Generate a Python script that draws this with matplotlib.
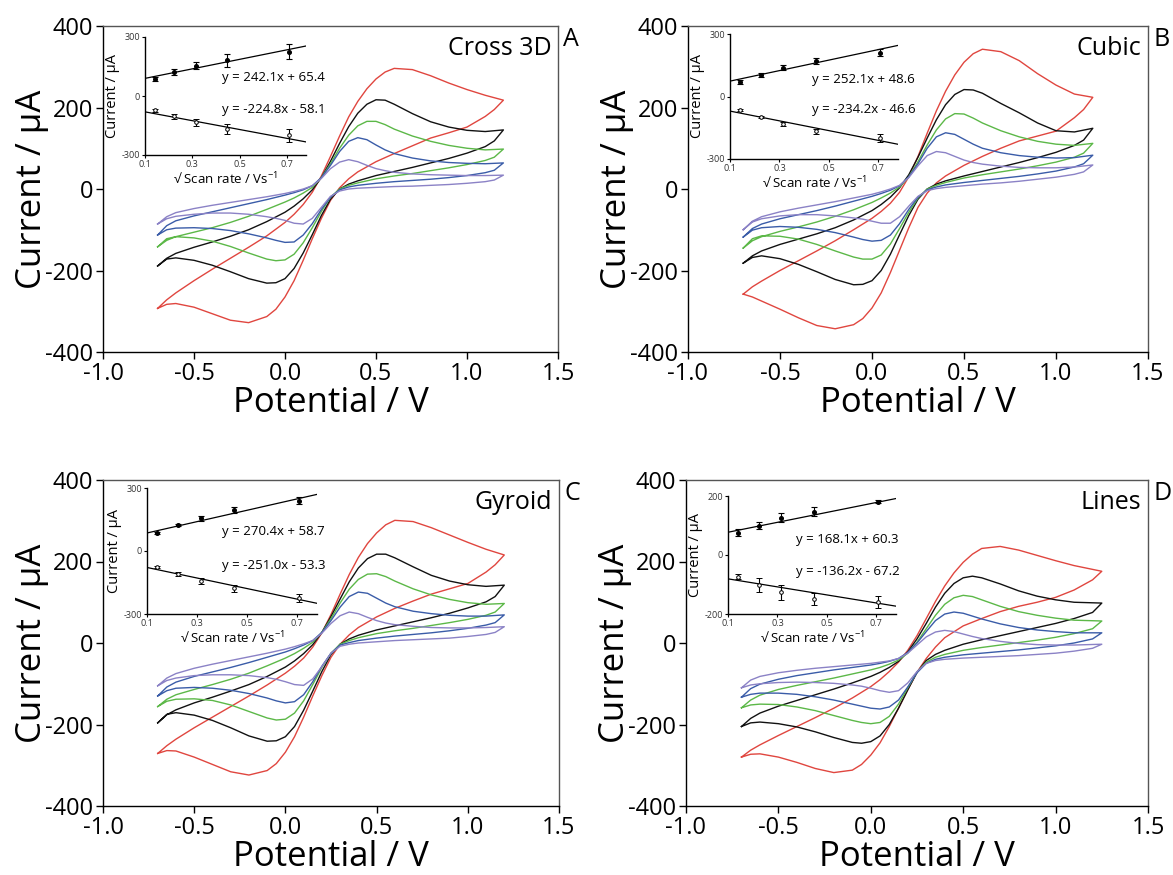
import matplotlib
matplotlib.use("Agg")
import matplotlib.pyplot as plt
import numpy as np

plt.rcParams['font.family'] = ['Open Sans', 'DejaVu Sans']
plt.rcParams['mathtext.default'] = 'regular'

W, H = 1173, 875

# ---------------- data ----------------
# potentials (V) of the forward (anodic) and reverse (cathodic) sweeps
VF = [-0.7, -0.65, -0.6, -0.5, -0.4, -0.3, -0.2, -0.1, 0.0, 0.05, 0.1, 0.15, 0.2, 0.25, 0.3,
      0.35, 0.4, 0.45, 0.5, 0.55, 0.6, 0.7, 0.8, 0.9, 1.0, 1.1, 1.2]
VR = [1.2, 1.15, 1.1, 1.0, 0.9, 0.8, 0.7, 0.6, 0.5, 0.4, 0.35, 0.3, 0.25, 0.2, 0.15, 0.1,
      0.05, 0.0, -0.05, -0.1, -0.2, -0.3, -0.4, -0.5, -0.6, -0.65, -0.7]
VF_D = [-0.7, -0.65, -0.6, -0.5, -0.4, -0.3, -0.2, -0.1, 0.0, 0.05, 0.1, 0.15, 0.2, 0.25, 0.3,
        0.35, 0.4, 0.45, 0.5, 0.55, 0.6, 0.7, 0.8, 0.9, 1.0, 1.1, 1.25]
VR_D = [1.25, 1.2, 1.1, 1.0, 0.9, 0.8, 0.7, 0.6, 0.5, 0.4, 0.35, 0.3, 0.25, 0.2, 0.15, 0.1,
        0.05, 0.0, -0.05, -0.1, -0.2, -0.3, -0.4, -0.5, -0.6, -0.65, -0.7]

curve_colors = ['#e0463f', '#111111', '#5cb848', '#3a5ca8', '#8b82c6']

# current (uA); rows: red, black, green, blue, purple
A_fwd = [
    [-293, -272, -255, -225, -197, -170, -143, -115, -82, -62, -38, -8, 32, 80, 130, 177, 215, 246, 270, 287, 296, 293, 278, 260, 244, 230, 218],
    [-189, -170, -158, -143, -130, -116, -100, -80, -57, -42, -24, -2, 28, 68, 112, 153, 186, 208, 219, 218, 208, 185, 165, 152, 144, 141, 145],
    [-142, -126, -117, -106, -95, -82, -67, -50, -32, -22, -10, 4, 28, 62, 100, 132, 155, 166, 166, 158, 147, 130, 117, 107, 100, 96, 98],
    [-113, -90, -78, -66, -56, -46, -36, -26, -15, -9, -2, 8, 28, 58, 92, 117, 126, 121, 108, 96, 87, 76, 69, 65, 63, 62, 64],
    [-86, -68, -58, -48, -40, -33, -26, -19, -11, -6, 0, 8, 26, 50, 66, 72, 67, 58, 50, 45, 41, 37, 35, 34, 33, 33, 34],
]
A_rev = [
    [218, 195, 178, 152, 138, 125, 106, 87, 67, 42, 25, 3, -28, -72, -122, -175, -225, -265, -295, -313, -328, -322, -306, -290, -281, -283, -293],
    [145, 118, 104, 88, 75, 64, 53, 43, 33, 20, 12, 0, -25, -65, -112, -157, -195, -220, -230, -231, -220, -203, -187, -175, -169, -172, -189],
    [98, 78, 70, 60, 52, 45, 38, 32, 25, 15, 9, 0, -20, -55, -95, -132, -160, -174, -176, -172, -157, -141, -128, -120, -117, -122, -142],
    [64, 46, 40, 33, 28, 24, 21, 18, 14, 9, 5, -2, -20, -50, -85, -113, -130, -131, -126, -120, -110, -102, -97, -95, -96, -100, -113],
    [34, 22, 18, 14, 11, 9, 7, 6, 4, 2, 0, -5, -18, -45, -72, -86, -84, -77, -72, -68, -62, -59, -59, -62, -67, -73, -86],
]
B_fwd = [
    [-258, -240, -226, -200, -176, -152, -127, -100, -72, -55, -35, -8, 30, 80, 137, 192, 240, 280, 311, 332, 343, 337, 315, 283, 255, 233, 225],
    [-182, -164, -152, -136, -123, -110, -95, -76, -53, -38, -20, 3, 35, 78, 125, 170, 207, 232, 244, 243, 235, 210, 187, 162, 143, 140, 149],
    [-145, -127, -117, -104, -93, -81, -67, -51, -33, -22, -10, 5, 30, 67, 108, 145, 172, 185, 184, 174, 162, 143, 128, 117, 110, 107, 112],
    [-118, -97, -86, -73, -63, -53, -42, -30, -18, -11, -3, 8, 30, 62, 100, 128, 138, 134, 122, 110, 100, 89, 82, 78, 76, 77, 83],
    [-100, -79, -68, -56, -47, -39, -31, -22, -13, -7, 0, 9, 28, 57, 82, 92, 89, 80, 71, 65, 61, 56, 53, 52, 52, 54, 59],
]
B_rev = [
    [225, 195, 175, 142, 130, 118, 100, 80, 58, 32, 15, -10, -45, -95, -150, -205, -255, -292, -318, -333, -343, -335, -316, -295, -275, -265, -258],
    [149, 120, 107, 90, 77, 65, 54, 43, 32, 20, 12, 0, -25, -65, -112, -160, -200, -225, -234, -235, -222, -203, -185, -171, -164, -168, -182],
    [112, 88, 78, 66, 57, 49, 42, 35, 27, 16, 9, 0, -22, -57, -97, -135, -162, -172, -172, -167, -152, -136, -123, -116, -115, -122, -145],
    [83, 62, 54, 44, 37, 31, 26, 21, 16, 10, 5, -2, -20, -50, -85, -113, -126, -128, -124, -118, -107, -99, -94, -92, -95, -101, -118],
    [59, 42, 36, 29, 24, 19, 15, 12, 8, 4, 1, -4, -18, -42, -68, -84, -84, -79, -74, -71, -66, -63, -63, -66, -73, -81, -100],
]
C_fwd = [
    [-271, -252, -236, -208, -182, -156, -130, -103, -74, -57, -37, -10, 25, 70, 120, 168, 210, 244, 270, 290, 301, 298, 283, 265, 247, 230, 216],
    [-196, -176, -164, -147, -133, -118, -102, -82, -59, -44, -26, -4, 26, 65, 108, 150, 184, 207, 218, 218, 209, 187, 166, 152, 143, 139, 142],
    [-156, -138, -127, -114, -102, -89, -74, -56, -37, -26, -13, 2, 26, 60, 98, 132, 156, 169, 170, 163, 152, 133, 118, 107, 99, 95, 97],
    [-130, -108, -96, -82, -71, -60, -48, -35, -22, -14, -5, 6, 26, 55, 88, 114, 125, 122, 110, 98, 89, 78, 72, 68, 66, 66, 69],
    [-105, -86, -75, -62, -52, -43, -34, -25, -15, -9, -2, 6, 24, 48, 67, 76, 72, 63, 55, 49, 45, 41, 38, 37, 37, 38, 40],
]
C_rev = [
    [216, 192, 174, 146, 133, 120, 103, 85, 64, 38, 20, -3, -35, -80, -130, -182, -230, -268, -296, -313, -324, -316, -298, -280, -265, -264, -271],
    [142, 114, 101, 86, 73, 62, 52, 42, 32, 19, 10, -3, -28, -70, -118, -165, -205, -230, -240, -241, -228, -208, -190, -177, -171, -175, -196],
    [97, 76, 68, 58, 50, 43, 36, 30, 23, 13, 6, -3, -25, -60, -102, -142, -172, -187, -189, -184, -168, -152, -141, -137, -138, -143, -156],
    [69, 50, 44, 36, 30, 25, 21, 17, 12, 6, 1, -5, -25, -57, -95, -127, -144, -147, -142, -135, -124, -116, -111, -109, -111, -117, -130],
    [40, 26, 21, 16, 12, 10, 8, 6, 3, 0, -3, -8, -25, -58, -88, -104, -102, -95, -89, -85, -80, -78, -78, -80, -86, -92, -105],
]
D_fwd = [
    [-280, -263, -250, -227, -205, -183, -160, -135, -107, -90, -70, -47, -18, 18, 60, 102, 140, 172, 198, 218, 232, 237, 228, 215, 202, 190, 176],
    [-205, -185, -172, -155, -141, -127, -113, -98, -82, -72, -60, -45, -22, 10, 48, 88, 122, 146, 160, 164, 160, 145, 128, 115, 106, 100, 98],
    [-159, -140, -128, -114, -104, -95, -86, -76, -66, -60, -52, -42, -25, 2, 35, 68, 95, 111, 117, 114, 106, 90, 77, 68, 61, 56, 54],
    [-133, -112, -101, -89, -80, -73, -66, -60, -54, -50, -45, -38, -23, 0, 28, 55, 71, 76, 73, 66, 59, 47, 38, 32, 28, 25, 25],
    [-110, -91, -82, -73, -67, -62, -58, -54, -50, -47, -44, -38, -25, -5, 15, 27, 31, 28, 22, 16, 11, 4, -1, -4, -5, -5, -3],
]
D_rev = [
    [176, 155, 130, 112, 100, 90, 77, 60, 42, 13, -10, -38, -72, -115, -160, -205, -245, -275, -298, -312, -318, -308, -293, -280, -272, -273, -280],
    [98, 75, 60, 48, 38, 28, 18, 8, -3, -18, -28, -43, -72, -115, -160, -200, -228, -242, -246, -244, -232, -218, -206, -198, -194, -196, -205],
    [54, 35, 23, 14, 7, 1, -5, -11, -18, -28, -35, -47, -72, -110, -150, -180, -195, -198, -195, -190, -178, -166, -157, -151, -150, -152, -159],
    [25, 10, 0, -7, -12, -17, -21, -25, -29, -35, -40, -50, -73, -108, -140, -157, -162, -160, -155, -150, -140, -132, -126, -123, -123, -126, -133],
    [-3, -13, -20, -25, -28, -31, -33, -35, -37, -40, -43, -50, -70, -98, -117, -121, -117, -111, -106, -103, -99, -97, -96, -97, -100, -103, -110],
]

# inset data: sqrt(scan rate) and peak currents with error bars
sqrt_sr = [0.141, 0.224, 0.316, 0.447, 0.707]
A_ox, A_ox_err = [87, 123, 155, 183, 225], [10, 15, 20, 33, 38]
A_rd, A_rd_err = [-72, -103, -133, -167, -200], [8, 13, 18, 25, 33]
B_ox, B_ox_err = [69, 104, 138, 170, 211], [8, 8, 12, 13, 17]
B_rd, B_rd_err = [-67, -99, -133, -168, -200], [5, 5, 10, 10, 18]
C_ox, C_ox_err = [86, 123, 157, 194, 240], [5, 5, 12, 15, 15]
C_rd, C_rd_err = [-75, -110, -142, -178, -224], [5, 8, 13, 15, 18]
D_ox, D_ox_err = [75, 100, 127, 147, 181], [12, 12, 15, 15, 5]
D_rd, D_rd_err = [-73, -102, -127, -150, -160], [10, 25, 25, 20, 20]

fits = {
    'A': [(242.1, 65.4), (-224.8, -58.1)],
    'B': [(252.1, 48.6), (-234.2, -46.6)],
    'C': [(270.4, 58.7), (-251.0, -53.3)],
    'D': [(168.1, 60.3), (-136.2, -67.2)],
}
fit_labels = {
    'A': ['y = 242.1x + 65.4', 'y = -224.8x - 58.1'],
    'B': ['y = 252.1x + 48.6', 'y = -234.2x - 46.6'],
    'C': ['y = 270.4x + 58.7', 'y = -251.0x - 53.3'],
    'D': ['y = 168.1x + 60.3', 'y = -136.2x - 67.2'],
}
names = {'A': 'Cross 3D', 'B': 'Cubic', 'C': 'Gyroid', 'D': 'Lines'}

# ---------------- layout (pixels) ----------------
main_px = {'A': (103, 558, 26, 352), 'B': (688, 1148, 26, 352),
           'C': (103, 559, 480, 806), 'D': (686, 1148, 480, 806)}
inset_px = {'A': (145, 306, 37, 155), 'B': (730, 898, 34, 159),
            'C': (147, 317, 488, 614), 'D': (728, 896, 496, 614)}
inset_ylim = {'A': 300, 'B': 300, 'C': 300, 'D': 200}
eq_px = {'A': (222, 78, 110), 'B': (812, 80, 110), 'C': (222, 532, 565), 'D': (796, 539, 571)}

def rect(l, r, t, b):
    return [l / W, 1 - b / H, (r - l) / W, (b - t) / H]

fig = plt.figure(figsize=(W / 100, H / 100), dpi=100)

panel_data = {
    'A': (VF, VR, A_fwd, A_rev, A_ox, A_ox_err, A_rd, A_rd_err),
    'B': (VF, VR, B_fwd, B_rev, B_ox, B_ox_err, B_rd, B_rd_err),
    'C': (VF, VR, C_fwd, C_rev, C_ox, C_ox_err, C_rd, C_rd_err),
    'D': (VF_D, VR_D, D_fwd, D_rev, D_ox, D_ox_err, D_rd, D_rd_err),
}

for key in ['A', 'B', 'C', 'D']:
    vf, vr, fwd, rev, ox, oxe, rd, rde = panel_data[key]
    l, r, t, b = main_px[key]
    ax = fig.add_axes(rect(l, r, t, b))
    for i in range(5):
        ax.plot(list(vf) + list(vr), list(fwd[i]) + list(rev[i]),
                color=curve_colors[i], lw=1.0, solid_joinstyle='round')
    ax.set_xlim(-1.0, 1.5)
    ax.set_ylim(-400, 400)
    ax.set_xticks([-1.0, -0.5, 0.0, 0.5, 1.0, 1.5])
    ax.set_xticklabels(['-1.0', '-0.5', '0.0', '0.5', '1.0', '1.5'])
    ax.set_yticks([-400, -200, 0, 200, 400])
    ax.set_yticklabels(['-400', '-200', '0', '200', '400'])
    ax.tick_params(direction='out', length=5, width=1, labelsize=17, pad=2,
                   top=False, right=False)
    for s in ['left', 'bottom']:
        ax.spines[s].set_color('black')
        ax.spines[s].set_linewidth(1.0)
    for s in ['top', 'right']:
        ax.spines[s].set_color('#555555')
        ax.spines[s].set_linewidth(1.0)
    ax.set_xlabel('Potential / V', fontsize=25, labelpad=0)
    ax.set_ylabel('Current / µA', fontsize=25, labelpad=-3)
    ax.text(0.985, 0.93, names[key], transform=ax.transAxes, ha='right', va='center',
            fontsize=18)
    ax.text(1.012, 0.96, key, transform=ax.transAxes, ha='left', va='center',
            fontsize=18)

    # inset
    il, ir, it, ib = inset_px[key]
    ia = fig.add_axes(rect(il, ir, it, ib))
    lim = inset_ylim[key]
    ia.set_xlim(0.1, 0.78)
    ia.set_ylim(-lim, lim)
    ia.set_xticks([0.1, 0.3, 0.5, 0.7])
    ia.set_xticklabels(['0.1', '0.3', '0.5', '0.7'])
    ia.set_yticks([-lim, 0, lim])
    ia.set_yticklabels([str(-lim), '0', str(lim)])
    ia.tick_params(direction='out', length=2.5, width=0.8, labelsize=6.5, pad=1,
                   labelcolor='#333333')
    ia.spines['top'].set_visible(False)
    ia.spines['right'].set_visible(False)
    for s in ['left', 'bottom']:
        ia.spines[s].set_linewidth(1.0)
    ia.patch.set_alpha(0)
    xs = np.array([0.1, 0.78])
    (m1, c1), (m2, c2) = fits[key]
    ia.plot(xs, m1 * xs + c1, color='black', lw=0.9)
    ia.plot(xs, m2 * xs + c2, color='black', lw=0.9)
    ia.errorbar(sqrt_sr, ox, yerr=oxe, fmt='o', ms=2.6, color='black', mfc='black',
                ecolor='black', elinewidth=0.8, capsize=2, capthick=0.8)
    ia.errorbar(sqrt_sr, rd, yerr=rde, fmt='o', ms=2.6, color='black', mfc='white',
                ecolor='black', elinewidth=0.8, capsize=2, capthick=0.8, mew=0.7)
    ia.set_ylabel('Current / µA', fontsize=10.5, labelpad=1)
    ia.set_xlabel('√ Scan rate / Vs$^{-1}$', fontsize=9.5, labelpad=1)
    ex, ey1, ey2 = eq_px[key]
    fig.text(ex / W, 1 - ey1 / H, fit_labels[key][0], fontsize=9.5, ha='left', va='center')
    fig.text(ex / W, 1 - ey2 / H, fit_labels[key][1], fontsize=9.5, ha='left', va='center')

fig.savefig('out.png', dpi=100)
